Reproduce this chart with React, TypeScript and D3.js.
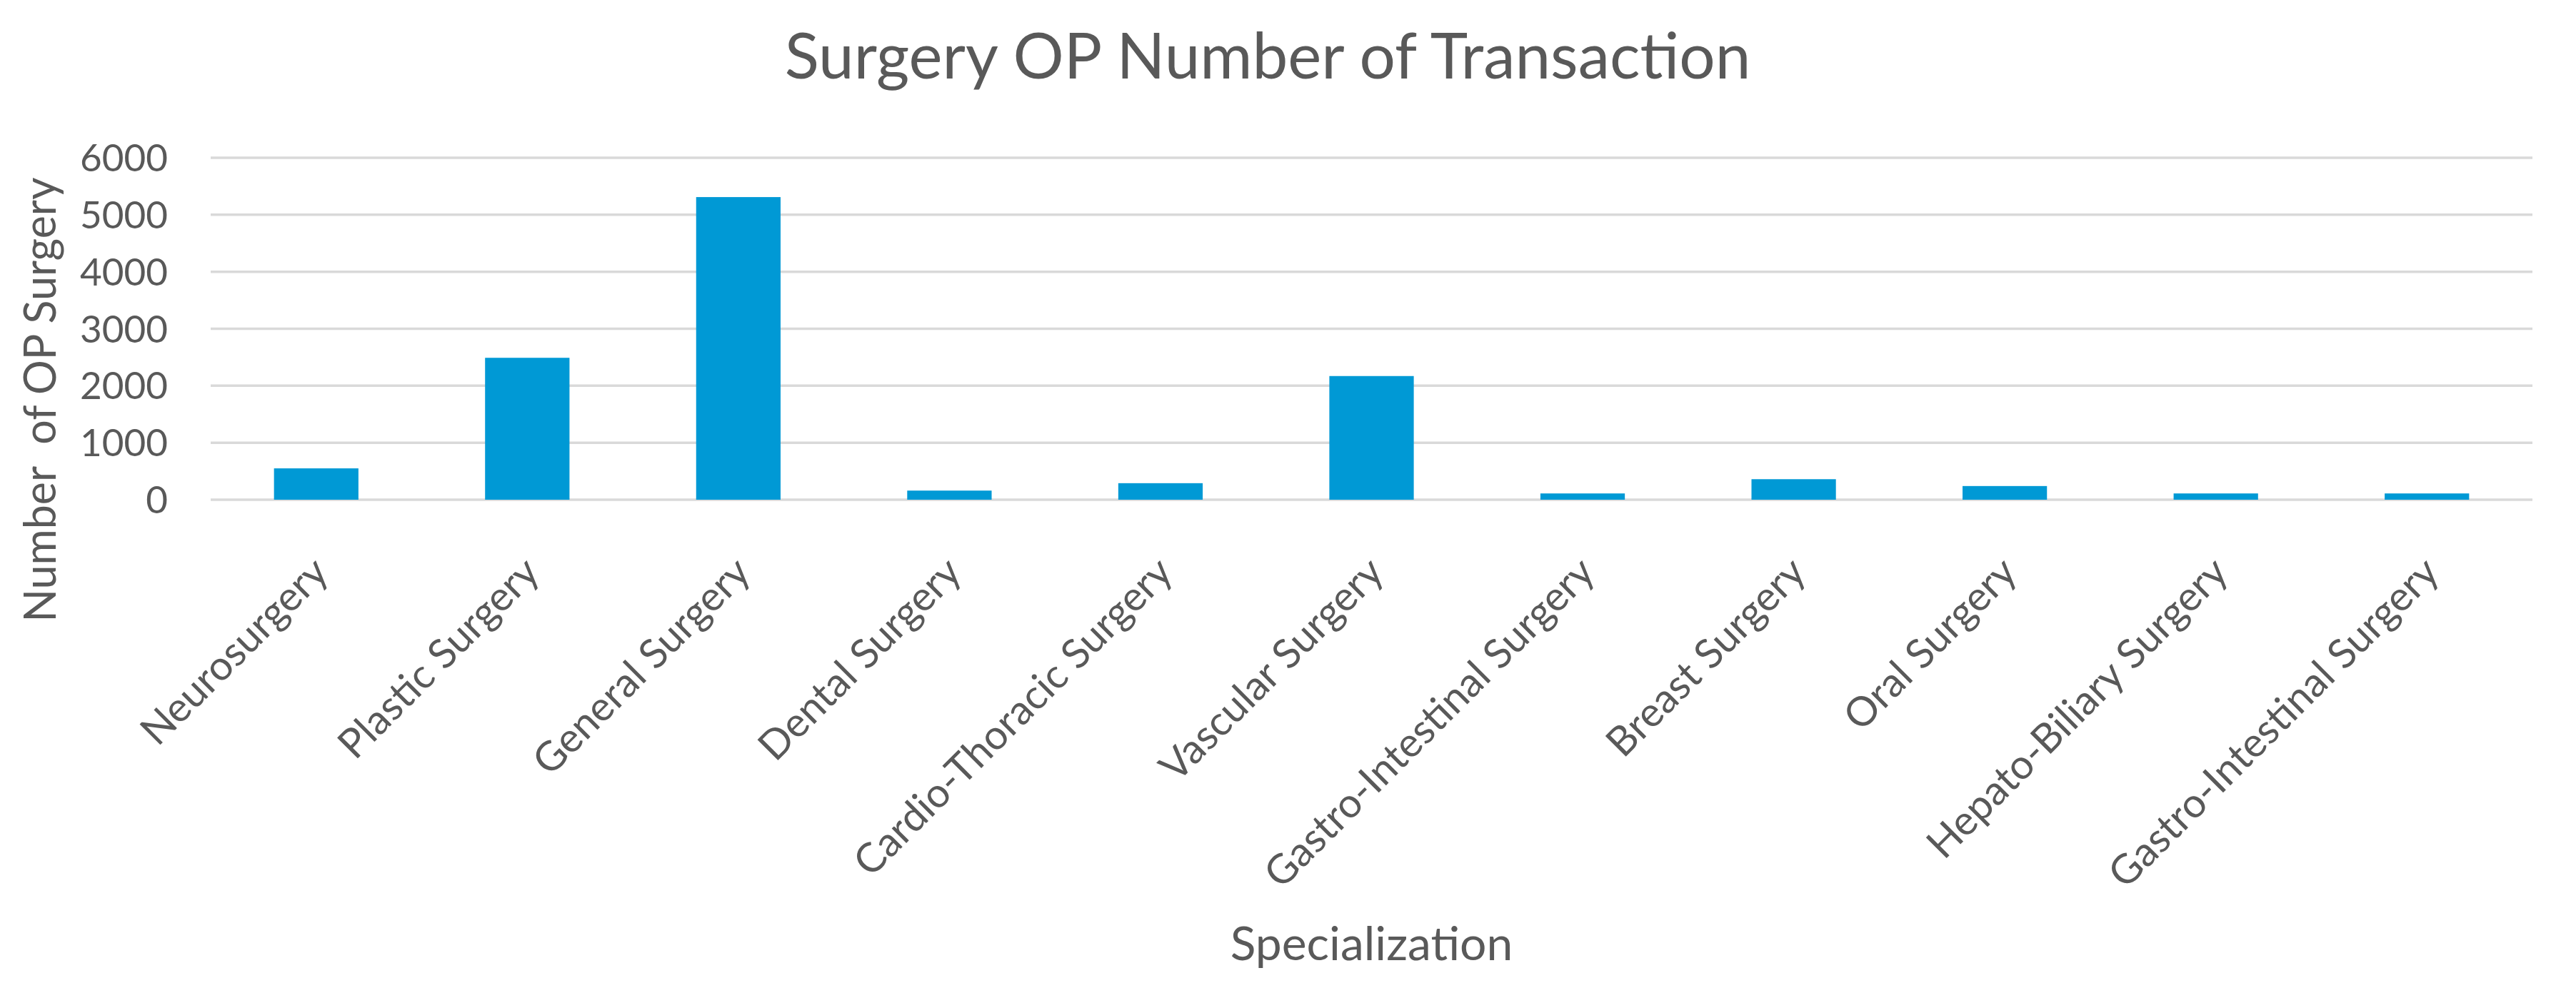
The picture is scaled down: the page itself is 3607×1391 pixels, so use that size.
import * as d3 from "d3";
import { useEffect, useRef } from "react";

// categories on the x axis
const specializations = [
  "Neurosurgery",
  "Plastic Surgery",
  "General Surgery",
  "Dental Surgery",
  "Cardio-Thoracic Surgery",
  "Vascular Surgery",
  "Gastro-Intestinal Surgery",
  "Breast Surgery",
  "Oral Surgery",
  "Hepato-Biliary Surgery",
  "Gastro-Intestinal Surgery ",
];

// number of OP surgery per specialization
const transactions = [550, 2490, 5310, 160, 290, 2170, 110, 360, 240, 110, 110];

const yTicks = [0, 1000, 2000, 3000, 4000, 5000, 6000];

const W = 3607;
const H = 1391;
const FONT = "Lato, 'Open Sans', sans-serif";
const TEXT = "#595959";

export default function App() {
  const svgRef = useRef<SVGSVGElement | null>(null);

  useEffect(() => {
    if (!svgRef.current) return;
    const svg = d3.select(svgRef.current);
    svg.selectAll("*").remove();

    const plot = { left: 295, right: 3546, top: 221, bottom: 700 };

    const x = d3
      .scaleBand()
      .domain(specializations)
      .range([plot.left, plot.right])
      .paddingInner(0.6)
      .paddingOuter(0.3);

    const y = d3.scaleLinear().domain([0, 6000]).range([plot.bottom, plot.top]);

    // gridlines
    svg
      .append("g")
      .selectAll("line")
      .data(yTicks)
      .enter()
      .append("line")
      .attr("x1", plot.left)
      .attr("x2", plot.right)
      .attr("y1", (d) => y(d))
      .attr("y2", (d) => y(d))
      .attr("stroke", "#d9d9d9")
      .attr("stroke-width", 3.5);

    // y tick labels
    svg
      .append("g")
      .selectAll("text")
      .data(yTicks)
      .enter()
      .append("text")
      .attr("x", 235)
      .attr("y", (d) => y(d))
      .attr("dy", "0.36em")
      .attr("text-anchor", "end")
      .attr("font-family", FONT)
      .attr("font-size", 53)
      .attr("fill", TEXT)
      .text((d) => String(d));

    // bars
    svg
      .append("g")
      .selectAll("rect")
      .data(transactions)
      .enter()
      .append("rect")
      .attr("x", (_, i) => x(specializations[i])!)
      .attr("y", (d) => y(d))
      .attr("width", x.bandwidth())
      .attr("height", (d) => y(0) - y(d))
      .attr("fill", "#0099d5");

    // rotated category labels
    svg
      .append("g")
      .selectAll("text")
      .data(specializations)
      .enter()
      .append("text")
      .attr(
        "transform",
        (d) => `translate(${x(d)! + x.bandwidth() / 2 + 20}, 805) rotate(-45)`
      )
      .attr("text-anchor", "end")
      .attr("font-family", FONT)
      .attr("font-size", 57)
      .attr("fill", TEXT)
      .text((d) => d.trim());

    // chart title
    svg
      .append("text")
      .attr("x", 1775)
      .attr("y", 110)
      .attr("text-anchor", "middle")
      .attr("font-family", FONT)
      .attr("font-size", 89)
      .attr("fill", TEXT)
      .text("Surgery OP Number of Transaction");

    // y axis title
    svg
      .append("text")
      .attr("transform", "translate(78, 560) rotate(-90)")
      .attr("text-anchor", "middle")
      .attr("font-family", FONT)
      .attr("font-size", 61)
      .attr("fill", TEXT)
      .style("white-space", "pre")
      .text("Number  of OP Surgery");

    // x axis title
    svg
      .append("text")
      .attr("x", (plot.left + plot.right) / 2)
      .attr("y", 1345)
      .attr("text-anchor", "middle")
      .attr("font-family", FONT)
      .attr("font-size", 66)
      .attr("fill", TEXT)
      .text("Specialization");
  }, []);

  return (
    <svg
      ref={svgRef}
      width={W}
      height={H}
      style={{ position: "absolute", left: 0, top: 0, background: "#fff" }}
    />
  );
}
